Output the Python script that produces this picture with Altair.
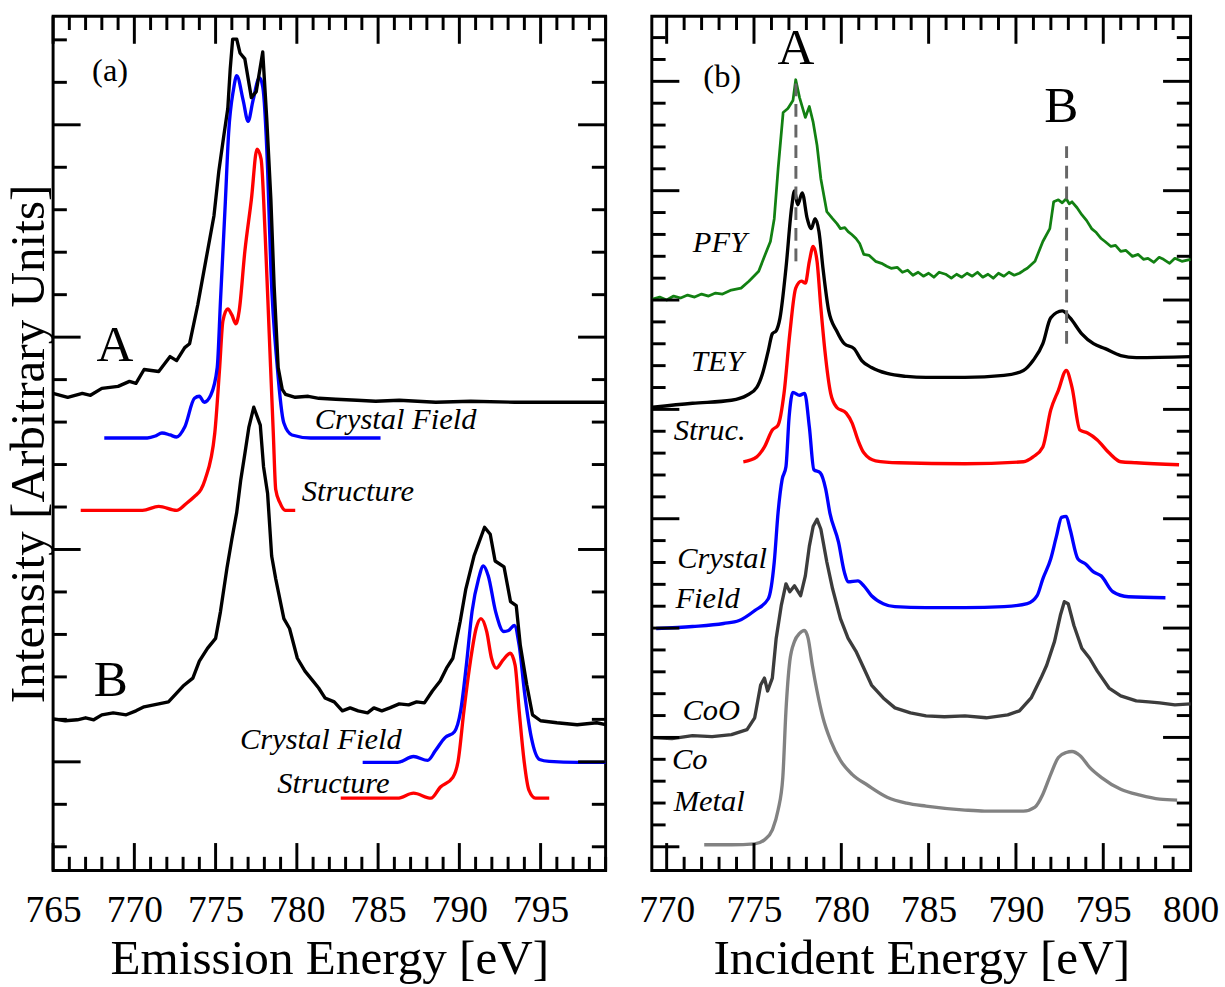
import altair as alt
import pandas as pd

FONT = "Liberation Serif"

# ---------------- Panel (a): emission spectra (x in eV, y in arbitrary units) ----------------
A_EXP_X = [765.0, 765.9, 766.8, 767.3, 768.0, 769.0, 769.7, 770.1, 770.6, 771.5, 772.2, 772.6, 773.1, 773.4,
           773.9, 774.4, 774.9, 775.2, 775.5, 775.75, 775.9, 776.05, 776.3, 776.5, 776.8, 777.2, 777.5, 777.9,
           778.15, 778.4, 778.6, 778.85, 779.1, 779.3, 779.9, 780.7, 781.35, 782.4, 783.7, 784.85, 786.3, 788.55,
           790.7, 793.4, 796.2, 799.0]
A_EXP_Y = [481, 477, 481, 479, 486, 488, 493, 491, 505, 503, 518, 514, 527, 531,
           570, 615, 660, 705, 740, 768, 808, 838, 838, 824, 818, 779, 785, 825,
           757, 677, 590, 507, 485, 480, 477, 478, 476, 475, 474, 473, 474, 472,
           473, 472, 472, 472]

A_CF_X = [768.15, 770.8, 771.3, 771.7, 772.2, 772.6, 773.1, 773.7, 774.0, 774.3, 774.7, 775.1, 775.3, 775.6,
          775.8, 776.1, 776.3, 776.7, 777.0, 777.3, 777.7, 777.9, 778.2, 778.4, 778.8, 779.2, 779.7, 780.85,
          785.15]
A_CF_Y = [436, 436, 438, 441, 439, 437, 447, 476, 478, 472, 479, 507, 574, 674,
          743, 787, 801, 776, 755, 776, 799, 790, 707, 607, 507, 451, 439, 436, 436]

A_ST_X = [766.7, 770.5, 771.5, 772.6, 773.2, 773.7, 774.1, 774.35, 774.95, 775.25, 775.45, 775.75, 776.0,
          776.25, 776.45, 776.8, 777.2, 777.55, 777.8, 778.05, 778.3, 778.55, 778.7, 778.95, 779.3, 779.9]
A_ST_Y = [363, 363, 367, 363, 370, 377, 384, 394, 441, 507, 554, 566, 560,
          551, 564, 624, 676, 727, 717, 641, 541, 441, 384, 371, 363, 363]

B_EXP_X = [765.0, 765.75, 766.5, 767.0, 767.5, 768.0, 768.7, 769.5, 770.1, 770.6, 771.5, 772.1, 772.5, 773.0,
           773.6, 774.0, 774.5, 775.0, 775.3, 775.7, 776.0, 776.3, 776.55, 776.8, 777.05, 777.35, 777.75,
           777.95, 778.2, 778.45, 778.7, 779.2, 779.55, 780.03, 780.5, 781.0, 781.34, 781.73, 782.3, 782.8,
           783.28, 783.77, 784.35, 784.74, 785.23, 785.72, 786.3, 786.88, 787.37, 787.85, 788.34, 788.82,
           789.21, 789.6, 790.05, 790.4, 790.9, 791.55, 791.9, 792.2, 792.75, 793.15, 793.5, 793.75, 794.15,
           794.5, 795.0, 796.0, 797.25, 798.45, 799.0]
B_EXP_Y = [153, 151, 152, 154, 152, 157, 159, 157, 161, 165, 168, 170, 177, 186,
           194, 211, 224, 234, 261, 305, 334, 361, 394, 420, 447, 467, 449,
           407, 380, 317, 294, 254, 244, 214, 201, 191, 184, 174, 170, 161,
           164, 161, 159, 164, 161, 164, 168, 167, 170, 169, 181, 191,
           204, 214, 251, 284, 317, 346, 339, 312, 306, 271, 267, 227, 187,
           157, 151, 149, 147, 149, 147]

B_CF_X = [784.05, 786.2, 787.18, 788.05, 788.53, 789.12, 789.7, 790.08, 790.43, 790.78, 791.18, 791.48, 791.78,
          792.23, 792.73, 793.03, 793.38, 793.68, 794.03, 794.43, 794.93, 795.53, 797.28, 799.0]
B_CF_Y = [109, 109, 115, 111, 121, 134, 140, 161, 207, 261, 294, 307, 297, 261,
          241, 242, 247, 227, 177, 134, 112, 110, 109, 109]

B_ST_X = [782.7, 786.2, 787.18, 788.25, 788.82, 789.6, 789.93, 790.28, 790.68, 791.03, 791.33, 791.68, 791.98,
          792.28, 792.68, 793.13, 793.43, 793.68, 793.98, 794.28, 794.68, 795.53]
B_ST_Y = [73, 73, 78, 73, 84, 94, 111, 161, 211, 244, 254, 241, 214, 204,
          212, 219, 207, 161, 111, 81, 73, 73]

# ---------------- Panel (b): absorption spectra ----------------
PFY_X = [769.2, 769.6, 770.0, 770.4, 770.8, 771.2, 771.6, 772.0, 772.4, 772.8, 773.2, 773.7, 774.26, 774.71,
         775.27, 775.71, 775.94, 776.16, 776.38, 776.67, 776.94, 777.23, 777.39, 777.61, 777.94, 778.17,
         778.39, 778.61, 778.83, 779.17, 779.5, 779.75, 779.95, 780.2, 780.39, 780.6, 780.84, 781.05, 781.29,
         781.6, 781.96, 782.3, 782.6, 782.85, 783.2, 783.5, 783.8, 784.1, 784.4, 784.7, 785.0, 785.3, 785.6,
         785.97, 786.3, 786.6, 786.9, 787.2, 787.5, 787.8, 788.1, 788.4, 788.7, 789.0, 789.31, 789.6, 789.9,
         790.2, 790.45, 790.65, 791.09, 791.54, 791.94, 792.16, 792.43, 792.65, 792.88, 793.05, 793.21, 793.5,
         793.77, 794.05, 794.33, 794.6, 794.88, 795.1, 795.44, 795.7, 796.0, 796.3, 796.67, 797.0, 797.3,
         797.56, 797.9, 798.2, 798.45, 798.8, 799.1, 799.5, 800.0]
PFY_Y = [576, 578, 575, 579, 577, 580, 578, 581, 579, 582, 581, 585, 587, 594,
         604, 624, 634, 657, 707, 764, 768, 776, 797, 779, 759, 770,
         754, 731, 697, 664, 657, 652, 647, 648, 644, 641, 637, 632, 621,
         620, 614, 612, 609, 607, 608, 603, 605, 600, 603, 599, 602, 598, 603,
         601, 597, 601, 598, 602, 599, 603, 598, 601, 597, 602, 599, 603, 600,
         602, 605, 607, 614, 634, 647, 674, 676, 673, 677, 672, 674, 668,
         661, 655, 647, 643, 637, 634, 629, 630, 624, 625, 619, 621, 616,
         617, 613, 618, 616, 612, 617, 614, 616]

TEY_X = [769.2, 771.48, 773.71, 774.6, 775.16, 775.49, 775.82, 776.05, 776.27, 776.49, 776.83, 777.16,
         777.32, 777.5, 777.76, 778.05, 778.28, 778.5, 778.72, 778.95, 779.28, 779.73, 780.17, 780.73,
         781.17, 781.73, 782.62, 783.74, 784.85, 787.08, 789.31, 790.43, 790.98, 791.54, 791.99, 792.65,
         793.1, 793.77, 794.44, 795.11, 796.0, 796.89, 800.0]
TEY_Y = [467, 471, 474, 479, 487, 501, 524, 541, 544, 557, 607, 669,
         685, 671, 683, 657, 647, 657, 644, 607, 564, 544, 531, 526,
         514, 507, 501, 498, 497, 497, 499, 504, 514, 531, 557, 564,
         557, 541, 531, 526, 519, 517, 518]

STR_X = [774.39, 775.16, 775.6, 776.05, 776.38, 776.72, 777.05, 777.39, 777.72, 777.94, 778.17, 778.39,
         778.61, 778.83, 779.06, 779.39, 779.73, 780.28, 780.62, 780.95, 781.29, 781.96, 783.29, 787.08,
         790.43, 790.98, 791.54, 791.99, 792.43, 792.88, 793.21, 793.66, 794.1, 794.66, 795.33, 796.0,
         796.89, 799.34]
STR_Y = [412, 417, 427, 444, 449, 481, 541, 587, 594, 592, 614, 629,
         614, 567, 524, 481, 467, 461, 451, 434, 421, 413, 411, 410,
         412, 417, 427, 464, 484, 504, 487, 444, 441, 434, 421, 412,
         411, 409]

CF_X = [769.4, 771.48, 773.26, 774.15, 775.04, 775.82, 776.16, 776.38, 776.61, 776.83, 777.01, 777.23,
        777.61, 777.9, 778.17, 778.43, 778.79, 779.1, 779.35, 779.84, 780.17, 780.39, 780.95, 781.29, 781.73,
        782.4, 783.07, 784.85, 787.08, 789.31, 790.65, 791.21, 791.54, 791.99, 792.32, 792.61, 792.88, 793.1,
        793.55, 793.99, 794.44, 794.88, 795.55, 796.44, 798.56]
CF_Y = [244, 246, 249, 252, 262, 274, 311, 361, 394, 407, 457, 482,
        479, 481, 447, 404, 401, 385, 360, 331, 301, 291, 292, 287, 277,
        269, 266, 265, 265, 266, 269, 277, 294, 314, 337, 356, 357, 344,
        314, 309, 301, 297, 281, 276, 275]

COO_X = [769.2, 770.3, 771.48, 772.6, 773.71, 774.6, 775.04, 775.38, 775.6, 775.78, 776.05, 776.27, 776.56,
         776.83, 777.05, 777.32, 777.67, 777.94, 778.17, 778.39, 778.61, 778.83, 779.17, 779.5, 779.95, 780.39,
         780.84, 781.29, 781.73, 782.4, 783.07, 783.96, 784.85, 785.9, 787.08, 788.3, 789.53, 790.2, 790.87,
         791.43, 791.76, 792.21, 792.54, 792.77, 792.99, 793.32, 793.77, 794.22, 794.66, 795.33, 796.0, 796.89,
         797.6, 798.23, 799.1, 800.0]
COO_Y = [134, 133, 136, 135, 137, 142, 154, 187, 194, 181, 194, 234, 267,
         289, 281, 287, 277, 297, 327, 347, 354, 344, 311, 284, 254, 234,
         221, 204, 187, 174, 164, 159, 156, 155, 156, 154, 157, 161, 174,
         194, 207, 231, 257, 271, 269, 247, 224, 214, 201, 184, 176, 171,
         170, 169, 167, 168]

CO_X = [772.15, 773.71, 775.04, 775.6, 776.05, 776.38, 776.65, 776.83, 777.05, 777.32, 777.61, 777.88, 778.1,
        778.34, 778.61, 778.95, 779.39, 779.95, 780.62, 781.51, 782.62, 783.74, 784.85, 787.08, 788.2, 790.43,
        791.09, 791.54, 791.99, 792.43, 792.88, 793.21, 793.66, 794.22, 794.88, 796.0, 797.11, 798.23, 799.23]
CO_Y = [26, 26, 27, 31, 41, 61, 94, 161, 211, 231, 239, 242, 234,
        207, 181, 154, 131, 111, 97, 86, 74, 68, 65, 61, 60, 60,
        64, 77, 97, 114, 119, 120, 116, 104, 94, 82, 76, 72, 71]

# peak markers (dashed) in panel (b)
DASH_X = [777.4, 792.9]
DASH_Y1 = [614, 531]
DASH_Y2 = [797, 730]

# ---------------- text labels ----------------
A_LAB_T = ["Crystal Field", "Structure", "Crystal Field", "Structure"]
A_LAB_X = [781.1, 780.3, 776.5, 778.8]
A_LAB_Y = [454, 381, 131, 87]
A_BIG_T = ["A", "B"]
A_BIG_X = [768.8, 768.55]
A_BIG_Y = [529, 192]

B_LAB_T = ["PFY", "TEY", "Struc.", "Crystal", "Field", "CoO", "Co", "Metal"]
B_LAB_X = [771.5, 771.4, 770.4, 770.6, 770.5, 770.9, 770.3, 770.4]
B_LAB_Y = [632, 512, 443, 314, 274, 161, 111, 69]
B_BIG_T = ["A", "B"]
B_BIG_X = [777.4, 792.6]
B_BIG_Y = [829, 770]

PANEL_T = ["(a)", "(b)"]
PANEL_X = [767.4, 772.1]
PANEL_Y = [806, 800]

# ---------------- geometry ----------------
H = 869
W_A = 562
W_B = 548
XDOM_A = [765, 799]
XDOM_B = [769.15, 800]
YDOM = [0, 861]
MINOR = 14
MAJOR = 28
LW = 3.4

ticks_xa = list(range(765, 800))
ticks_xb = list(range(770, 800))
ticks_ya = [24 + 42.8 * k for k in range(20)]
ticks_yb = [24 + 22.04 * k for k in range(38)]

xsc_a = alt.Scale(domain=XDOM_A, nice=False, zero=False)
xsc_b = alt.Scale(domain=XDOM_B, nice=False, zero=False)
ysc = alt.Scale(domain=YDOM, nice=False, zero=False)


def x_axis(title, values):
    return alt.Axis(title=title, values=values, labelFont=FONT, labelFontSize=38, labelColor="black",
                    labelPadding=22, ticks=False, tickSize=0, domain=False, grid=False, labelFlush=False,
                    labelOverlap=False, titleFont=FONT, titleFontSize=50, titleFontWeight="normal",
                    titleColor="black", titlePadding=5)


xa_a = x_axis("Emission Energy [eV]", [765, 770, 775, 780, 785, 790, 795])
xa_b = x_axis("Incident Energy [eV]", [770, 775, 780, 785, 790, 795, 800])
ya_a = alt.Axis(title="Intensity [Arbitrary Units]", labels=False, ticks=False, tickSize=0, domain=False,
                grid=False, titleFont=FONT, titleFontSize=50, titleFontWeight="normal", titleColor="black",
                titlePadding=0)


def line(xs, ys, color, xsc, xax, yax, interp="linear", width=LW):
    df = pd.DataFrame({"x": xs, "y": ys, "i": list(range(len(xs)))})
    return alt.Chart(df).mark_line(color=color, strokeWidth=width, strokeJoin="round",
                                   interpolate=interp).encode(
        x=alt.X("x:Q", scale=xsc, axis=xax),
        y=alt.Y("y:Q", scale=ysc, axis=yax),
        order="i:Q",
    )


def x_ticks(vals, xsc, xax, major_every, major_start):
    out = []
    for L in (MINOR, MAJOR):
        sel = [v for v in vals if ((v - major_start) % major_every == 0) == (L == MAJOR)]
        df = pd.DataFrame({"x": sel})
        base = alt.Chart(df).mark_rule(color="black", strokeWidth=3)
        out.append(base.encode(x=alt.X("x:Q", scale=xsc, axis=xax), y=alt.value(0), y2=alt.value(L)))
        out.append(base.encode(x=alt.X("x:Q", scale=xsc, axis=xax), y=alt.value(H), y2=alt.value(H - L)))
    return out


def y_ticks(vals, yax, W, is_major):
    out = []
    for major in (False, True):
        df = pd.DataFrame({"y": [v for k, v in enumerate(vals) if is_major(k) == major]})
        L = MAJOR if major else MINOR
        base = alt.Chart(df).mark_rule(color="black", strokeWidth=3)
        out.append(base.encode(y=alt.Y("y:Q", scale=ysc, axis=yax), x=alt.value(0), x2=alt.value(L)))
        out.append(base.encode(y=alt.Y("y:Q", scale=ysc, axis=yax), x=alt.value(W), x2=alt.value(W - L)))
    return out


def texts(ts, xs, ys, xsc, xax, yax, size, style="normal", align="left"):
    df = pd.DataFrame({"x": xs, "y": ys, "t": ts})
    return alt.Chart(df).mark_text(font=FONT, fontSize=size, fontStyle=style, align=align,
                                   baseline="middle", color="black").encode(
        x=alt.X("x:Q", scale=xsc, axis=xax), y=alt.Y("y:Q", scale=ysc, axis=yax), text="t:N")


# ---------------- panel (a) ----------------
layers_a = [
    line(A_ST_X, A_ST_Y, "#ff0000", xsc_a, xa_a, ya_a, "monotone"),
    line(A_CF_X, A_CF_Y, "#0000ff", xsc_a, xa_a, ya_a, "monotone"),
    line(A_EXP_X, A_EXP_Y, "#000000", xsc_a, xa_a, ya_a),
    line(B_ST_X, B_ST_Y, "#ff0000", xsc_a, xa_a, ya_a, "monotone"),
    line(B_CF_X, B_CF_Y, "#0000ff", xsc_a, xa_a, ya_a, "monotone"),
    line(B_EXP_X, B_EXP_Y, "#000000", xsc_a, xa_a, ya_a),
    texts(A_LAB_T, A_LAB_X, A_LAB_Y, xsc_a, xa_a, ya_a, 31, "italic"),
    texts(A_BIG_T, A_BIG_X, A_BIG_Y, xsc_a, xa_a, ya_a, 52, align="center"),
    texts(PANEL_T[:1], PANEL_X[:1], PANEL_Y[:1], xsc_a, xa_a, ya_a, 33),
]
layers_a += x_ticks(ticks_xa, xsc_a, xa_a, 5, 765)
layers_a += y_ticks(ticks_ya, ya_a, W_A, lambda k: k % 5 == 2)
panel_a = alt.layer(*layers_a).properties(width=W_A, height=H)

# ---------------- panel (b) ----------------
dash_df = pd.DataFrame({"x": DASH_X, "y": DASH_Y1, "y2": DASH_Y2})
layers_b = [
    line(PFY_X, PFY_Y, "#128012", xsc_b, xa_b, None, width=2.8),
    line(TEY_X, TEY_Y, "#000000", xsc_b, xa_b, None, "monotone"),
    line(STR_X, STR_Y, "#ff0000", xsc_b, xa_b, None, "monotone"),
    line(CF_X, CF_Y, "#0000ff", xsc_b, xa_b, None, "monotone"),
    line(COO_X, COO_Y, "#3c3c3c", xsc_b, xa_b, None),
    line(CO_X, CO_Y, "#828282", xsc_b, xa_b, None, "monotone"),
    alt.Chart(dash_df).mark_rule(color="#666666", strokeWidth=3, strokeDash=[13, 8]).encode(
        x=alt.X("x:Q", scale=xsc_b, axis=xa_b), y=alt.Y("y:Q", scale=ysc, axis=None), y2="y2:Q"),
    texts(B_LAB_T, B_LAB_X, B_LAB_Y, xsc_b, xa_b, None, 31, "italic"),
    texts(B_BIG_T, B_BIG_X, B_BIG_Y, xsc_b, xa_b, None, 52, align="center"),
    texts(PANEL_T[1:], PANEL_X[1:], PANEL_Y[1:], xsc_b, xa_b, None, 33),
]
layers_b += x_ticks(ticks_xb, xsc_b, xa_b, 5, 770)
layers_b += y_ticks(ticks_yb, None, W_B, lambda k: k % 5 == 0)
panel_b = alt.layer(*layers_b).properties(width=W_B, height=H)

chart = alt.hconcat(panel_a, panel_b, spacing=28).properties(
    padding={"left": 2, "top": 5, "right": 5, "bottom": 0},
    background="white",
).configure_view(stroke="black", strokeWidth=3)

chart.save("out.html", embed_options={"renderer": "svg", "actions": False})
